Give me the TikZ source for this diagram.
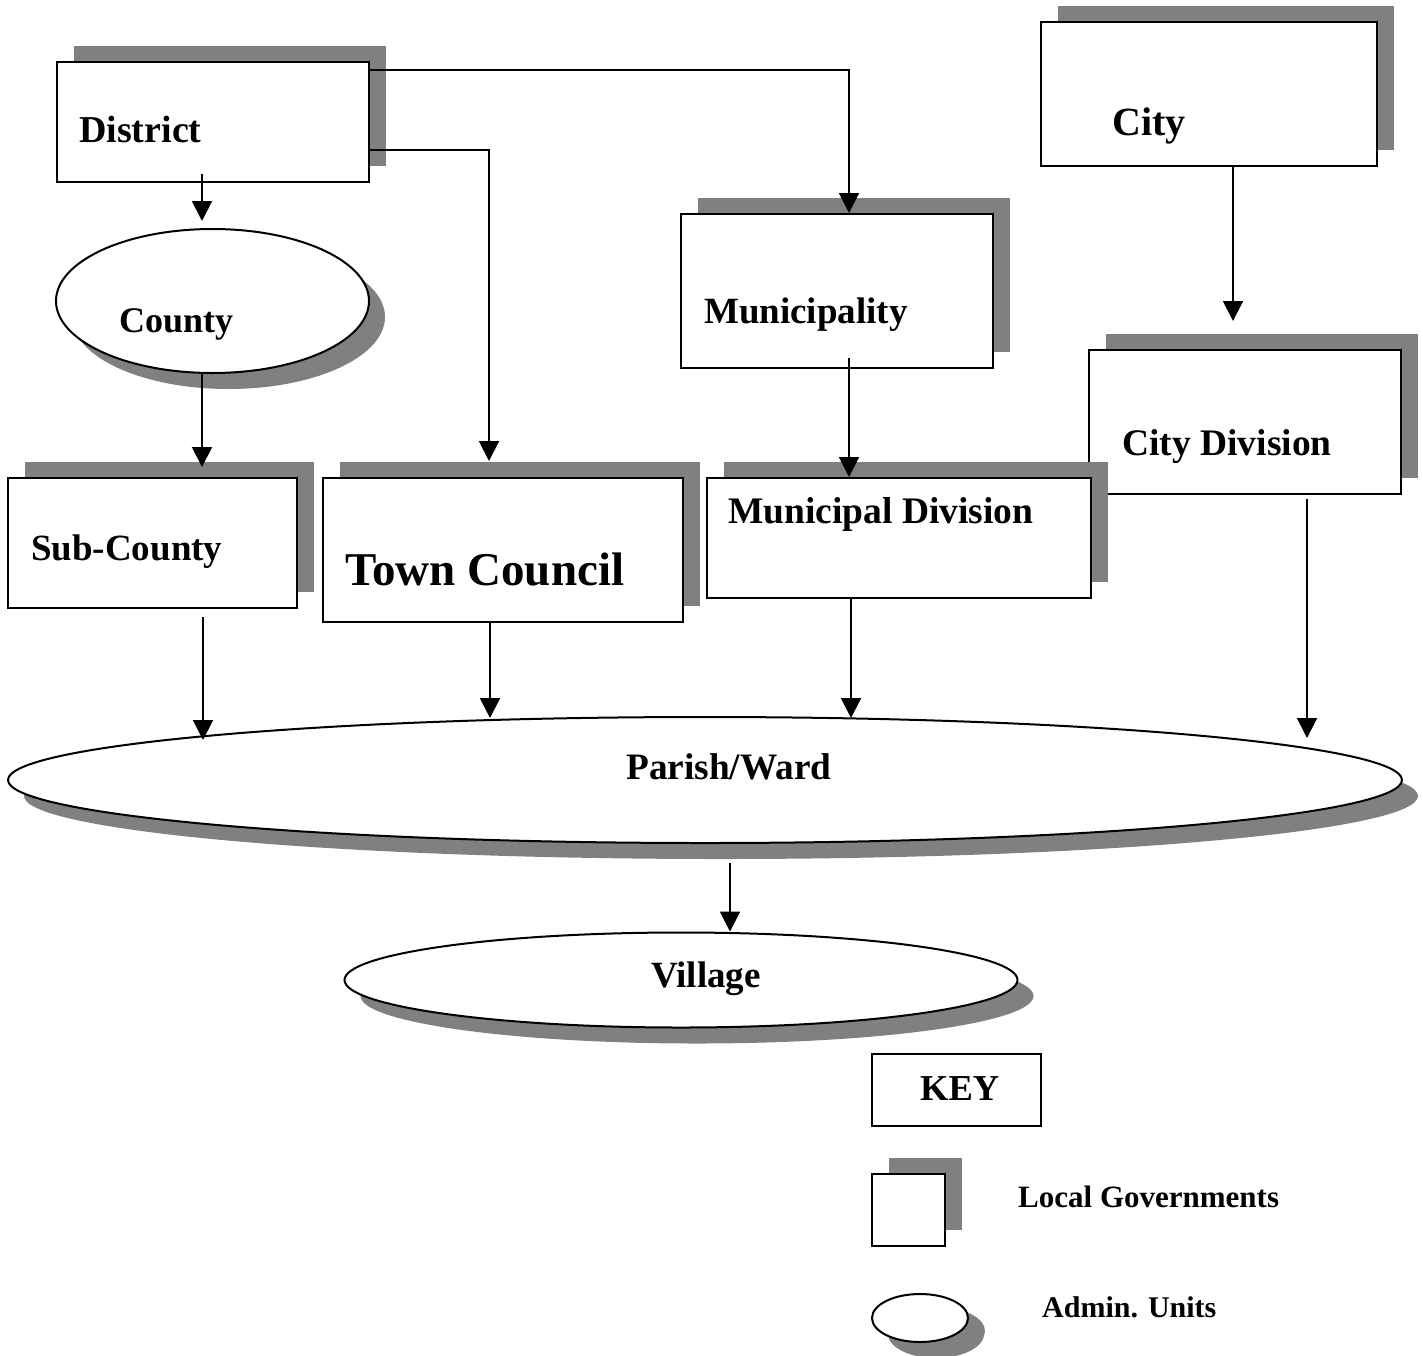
\documentclass[tikz,border=0pt]{standalone}
\usepackage{fontspec}
\setmainfont{Liberation Serif}
\usetikzlibrary{arrows.meta,shapes.geometric,shadows}
\definecolor{shgray}{HTML}{808080}
\begin{document}
\begin{tikzpicture}[x=1pt,y=-1pt,
  box/.style={draw,line width=2pt,fill=white,rectangle,inner sep=0pt,
    general shadow={fill=shgray,shadow xshift=17pt,shadow yshift=16pt}},
  unit/.style={draw,line width=2pt,fill=white,ellipse,inner sep=0pt,
    general shadow={fill=shgray,shadow xshift=16pt,shadow yshift=-16pt}},
  plainbox/.style={draw,line width=2pt,fill=white,rectangle,inner sep=0pt},
  lbl/.style={anchor=base west,inner sep=0pt,font=\bfseries\fontsize{#1}{#1}\selectfont},
  arr/.style={line width=2pt,-{Triangle[length=20pt,width=20pt]}}
]
\useasboundingbox (0,0) rectangle (1423,1355);

% boxes (local governments)
\node[box,minimum width=312pt,minimum height=120pt] (district) at (213,122) {};
\node[box,minimum width=336pt,minimum height=144pt] (city) at (1209,94) {};
\node[box,minimum width=312pt,minimum height=154pt] (muni) at (837,291) {};
\node[box,minimum width=312pt,minimum height=144pt] (citydiv) at (1245,422) {};
\node[unit,minimum width=313pt,minimum height=144pt] (county) at (212.5,301) {};
\node[box,minimum width=289pt,minimum height=130pt] (subcounty) at (152.5,543) {};
\node[box,minimum width=360pt,minimum height=144pt] (town) at (503,550) {};
\node[box,minimum width=384pt,minimum height=120pt] (munidiv) at (899,538) {};
\node[unit,minimum width=1394pt,minimum height=126pt] (parish) at (705,780) {};
\node[unit,minimum width=673pt,minimum height=95pt] (village) at (681,980) {};

% labels
\node[lbl=38] (tdistrict) at (79,142) {District};
\node[lbl=40] (tcity) at (1112,135) {City};
\node[lbl=37] (tmuni) at (704,323) {Municipality};
\node[lbl=37.5] (tcitydiv) at (1122,455) {City Division};
\node[lbl=36] (tcounty) at (119,332) {County};
\node[lbl=37] (tsub) at (31,560) {Sub-County};
\node[lbl=47] (ttown) at (345,585) {Town Council};
\node[lbl=37.5] (tmunidiv) at (728,523) {Municipal Division};
\node[lbl=37.3] (tparish) at (626,779) {Parish/Ward};
\node[lbl=37] (tvillage) at (651,987) {Village};

% key
\node[plainbox,minimum width=169pt,minimum height=72pt] (key) at (956.5,1090) {};
\node[lbl=36.5] (tkey) at (920,1100) {KEY};
\node[box,minimum width=73pt,minimum height=72pt] (keysq) at (908.5,1210) {};
\node[lbl=31] (tlg) at (1018,1207) {Local Governments};
\node[unit,minimum width=96pt,minimum height=48pt,general shadow={fill=shgray,shadow xshift=17pt,shadow yshift=-13pt}] (keyell) at (920,1318) {};
\node[lbl=30] (tau) at (1042,1317) {Admin. Units};

% connectors
\draw[arr] ([xshift=-11pt,yshift=9pt]district.south) -- ([xshift=-10.5pt,yshift=7pt]county.north);
\draw[arr] ([yshift=52pt]district.east) -| ([xshift=12pt]muni.north);
\draw[arr] ([yshift=-28pt]district.east) -| ([xshift=-14pt,yshift=16pt]town.north);
\draw[arr] ([xshift=-10.5pt,yshift=1pt]county.south) -- ([xshift=49.5pt,yshift=10pt]subcounty.north);
\draw[arr] ([xshift=24pt]city.south) -- ([xshift=-12pt,yshift=28pt]citydiv.north);
\draw[arr] ([xshift=12pt,yshift=11pt]muni.south) -- ([xshift=-50pt]munidiv.north);
\draw[arr] ([xshift=50.5pt,yshift=-8pt]subcounty.south) -- ([xshift=-502pt,yshift=40pt]parish.center);
\draw[arr] ([xshift=-13pt]town.south) -- ([xshift=-215pt,yshift=62pt]parish.center);
\draw[arr] ([xshift=-48pt]munidiv.south) -- ([xshift=146pt,yshift=62pt]parish.center);
\draw[arr] ([xshift=62pt,yshift=-4pt]citydiv.south) -- ([xshift=602pt,yshift=42pt]parish.center);
\draw[arr] ([xshift=25pt,yshift=-19pt]parish.south) -- ([xshift=49pt]village.north);
\end{tikzpicture}
\end{document}
